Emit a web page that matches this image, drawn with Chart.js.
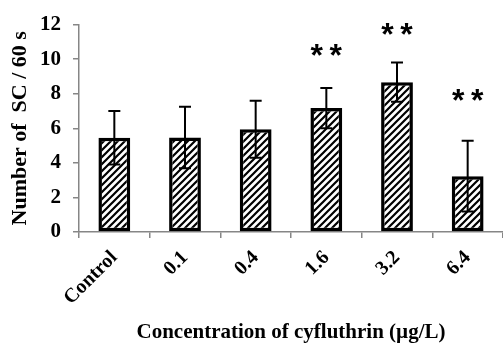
<!DOCTYPE html>
<html>
<head>
<meta charset="utf-8">
<script src="https://cdnjs.cloudflare.com/ajax/libs/Chart.js/4.4.1/chart.umd.js"></script>
<style>
  html, body { margin: 0; padding: 0; background: #fff; }
  #wrap { width: 503px; height: 343px; }
</style>
</head>
<body>
<div id="wrap"><canvas id="chart" width="503" height="343"></canvas></div>
<script>
// values
const categories = ['Control', '0.1', '0.4', '1.6', '3.2', '6.4'];
const means      = [5.45, 5.47, 5.94, 7.17, 8.67, 3.23];
const sds        = [1.55, 1.78, 1.65, 1.16, 1.13, 2.05];
const sigLabels  = ['', '', '', '**', '**', '**'];
const sigHeights = [null, null, null, 10.3, 11.5, 7.7];
const yTicks     = [0, 2, 4, 6, 8, 10, 12];

const axisGray = '#868686';
const serif = '"Liberation Serif", "Times New Roman", serif';

function hatchPattern() {
    const s = 7;
    const c = document.createElement('canvas');
    c.width = s; c.height = s;
    const g = c.getContext('2d');
    g.fillStyle = '#fff';
    g.fillRect(0, 0, s, s);
    g.strokeStyle = '#000';
    g.lineWidth = 2.2;
    g.beginPath();
    g.moveTo(-1, 1); g.lineTo(1, -1);
    g.moveTo(0, s); g.lineTo(s, 0);
    g.moveTo(s - 1, s + 1); g.lineTo(s + 1, s - 1);
    g.stroke();
    return document.getElementById('chart').getContext('2d').createPattern(c, 'repeat');
}

const errorBars = {
    id: 'errorBars',
    afterDatasetsDraw(chart) {
        const ctx = chart.ctx;
        const y = chart.scales.y;
        const meta = chart.getDatasetMeta(0);
        ctx.save();
        ctx.strokeStyle = '#000';
        ctx.lineWidth = 2;
        meta.data.forEach((bar, i) => {
            const top = y.getPixelForValue(means[i] + sds[i]);
            const bot = y.getPixelForValue(means[i] - sds[i]);
            ctx.beginPath();
            ctx.moveTo(bar.x, top); ctx.lineTo(bar.x, bot);
            ctx.moveTo(bar.x - 6, top); ctx.lineTo(bar.x + 6, top);
            ctx.moveTo(bar.x - 6, bot); ctx.lineTo(bar.x + 6, bot);
            ctx.stroke();
            if (sigLabels[i]) {
                ctx.fillStyle = '#000';
                ctx.font = 'bold 32px "Liberation Sans", Arial, sans-serif';
                ctx.textAlign = 'center';
                ctx.textBaseline = 'middle';
                const ty = y.getPixelForValue(sigHeights[i]);
                ctx.fillText('*', bar.x - 9.5, ty + 3);
                ctx.fillText('*', bar.x + 9.5, ty + 3);
            }
        });
        ctx.restore();
    }
};

new Chart(document.getElementById('chart'), {
    type: 'bar',
    data: {
        labels: categories,
        datasets: [{
            data: means,
            backgroundColor: hatchPattern(),
            borderColor: '#000',
            borderWidth: 3.5,
            borderSkipped: false,
            barPercentage: 0.45,
            categoryPercentage: 1
        }]
    },
    options: {
        responsive: false,
        animation: false,
        layout: { padding: { top: 23, right: 0, left: 4, bottom: 0 } },
        plugins: { legend: { display: false }, tooltip: { enabled: false } },
        scales: {
            x: {
                grid: { drawOnChartArea: false, color: axisGray, tickLength: 6, lineWidth: 1.5 },
                border: { color: axisGray, width: 1.5 },
                ticks: {
                    color: '#000', minRotation: 45, maxRotation: 45, padding: 8,
                    font: { family: serif, size: 20, weight: 'bold' }
                },
                title: {
                    display: true, text: 'Concentration of cyfluthrin (µg/L)', color: '#000',
                    padding: { top: 0, bottom: 0 },
                    font: { family: serif, size: 21, weight: 'bold', lineHeight: 1 }
                },
                afterFit(scale) { scale.height = 111; }
            },
            y: {
                min: 0, max: 12,
                afterBuildTicks(scale) { scale.ticks = yTicks.map(v => ({ value: v })); },
                grid: { drawOnChartArea: false, color: axisGray, tickLength: 6, lineWidth: 1.5 },
                border: { color: axisGray, width: 1.5 },
                ticks: {
                    color: '#000', padding: 12,
                    font: { family: serif, size: 21, weight: 'bold' }
                },
                title: {
                    display: true, text: 'Number of  SC / 60 s', color: '#000',
                    padding: { top: 3, bottom: 0 },
                    font: { family: serif, size: 22, weight: 'bold' }
                },
                afterFit(scale) { scale.width = 75; }
            }
        }
    },
    plugins: [errorBars]
});
</script>
</body>
</html>
